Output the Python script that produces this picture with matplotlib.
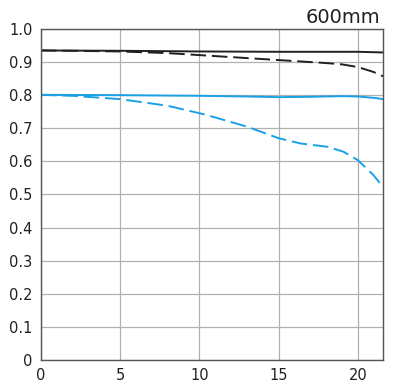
import matplotlib
matplotlib.use("Agg")
import matplotlib.pyplot as plt

# MTF data (image height mm -> contrast)
sag_black_x = [0, 5, 10, 15, 18, 20, 21.6]
sag_black_y = [0.935, 0.934, 0.932, 0.931, 0.931, 0.931, 0.929]

mer_black_x = [0, 2, 5, 8, 10, 12, 15, 17, 18, 19, 20, 21, 21.6]
mer_black_y = [0.935, 0.934, 0.932, 0.927, 0.921, 0.915, 0.906, 0.900, 0.897, 0.893, 0.885, 0.870, 0.857]

sag_blue_x = [0, 5, 10, 13, 15, 17, 19, 20, 21, 21.6]
sag_blue_y = [0.801, 0.800, 0.798, 0.796, 0.794, 0.795, 0.797, 0.796, 0.792, 0.788]

mer_blue_x = [0, 2, 5, 8, 10.4, 13, 15, 16.4, 18.1, 19.1, 20, 21, 21.6]
mer_blue_y = [0.801, 0.798, 0.788, 0.768, 0.741, 0.705, 0.670, 0.654, 0.644, 0.629, 0.604, 0.558, 0.522]

xticks = [0, 5, 10, 15, 20]
yticks = [0, 0.1, 0.2, 0.3, 0.4, 0.5, 0.6, 0.7, 0.8, 0.9, 1.0]
ylabels = ["0", "0.1", "0.2", "0.3", "0.4", "0.5", "0.6", "0.7", "0.8", "0.9", "1.0"]

black = "#231f20"
blue = "#1aa0e6"

fig = plt.figure(figsize=(3.97, 3.86), dpi=100)
ax = fig.add_axes([0.103, 0.0674, 0.862, 0.8576])

ax.plot(sag_black_x, sag_black_y, color=black, lw=1.4)
ax.plot(mer_black_x, mer_black_y, color=black, lw=1.4, dashes=(8, 3))
ax.plot(sag_blue_x, sag_blue_y, color=blue, lw=1.4)
ax.plot(mer_blue_x, mer_blue_y, color=blue, lw=1.4, dashes=(8, 3))

ax.set_xlim(0, 21.6)
ax.set_ylim(0, 1.0)
ax.set_xticks(xticks)
ax.set_yticks(yticks)
ax.set_yticklabels(ylabels)
ax.grid(True, color="#b0b0b0", lw=0.9)
ax.set_axisbelow(True)
ax.tick_params(length=0, labelsize=10.5, colors="#231f20", pad=6)
for s in ax.spines.values():
    s.set_color("#555555")
    s.set_linewidth(1.0)

fig.text(0.957, 0.955, "600mm", ha="right", va="center", fontsize=14, color="#231f20")

fig.savefig("out.png", dpi=100)
